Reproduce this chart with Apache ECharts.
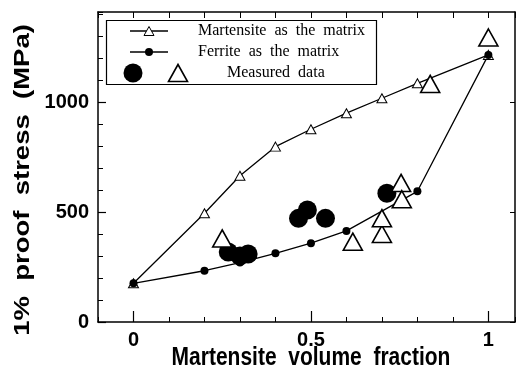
<!DOCTYPE html>
<html>
<head>
<meta charset="utf-8">
<script src="https://cdn.jsdelivr.net/npm/echarts@6/dist/echarts.min.js"></script>
<style>
html,body{margin:0;padding:0;background:#fff;}
#chart{width:516px;height:371px;}
</style>
</head>
<body>
<div id="chart"></div>
<script>
// ---- data ----
var martX = [0, 0.2, 0.3, 0.4, 0.5, 0.6, 0.7, 0.8, 1.0];
var martY = [176, 494, 665, 797, 876, 949, 1017, 1085, 1214];
var ferrX = [0, 0.2, 0.3, 0.4, 0.5, 0.6, 0.8, 1.0];
var ferrY = [176, 233, 270, 312, 358, 414, 594, 1214];
var measCircX = [0.267, 0.300, 0.323, 0.465, 0.490, 0.541, 0.714];
var measCircY = [318, 300, 309, 471, 509, 471, 585];
var measTriX = [0.250, 0.618, 0.700, 0.700, 0.754, 0.756, 0.836, 1.0];
var measTriY = [380, 365, 400, 472, 632, 558, 1082, 1293];
var xTickLabels = [0, 0.5, 1];
var yTickLabels = [0, 500, 1000];
var legendNames = ['Martensite  as  the  matrix', 'Ferrite  as  the  matrix', 'Measured  data'];
var xTitle = 'Martensite  volume  fraction';
var yTitle = '1%  proof  stress  (MPa)';

function zip(a, b) { return a.map(function (v, i) { return [v, b[i]]; }); }

var chart = echarts.init(document.getElementById('chart'), null, {renderer: 'canvas'});

var X_MIN = -0.1, X_MAX = 1.075, Y_MIN = 0, Y_MAX = 1409;
var FONT_SANS = '"Liberation Sans", Arial, sans-serif';
var lineClr = '#000';

function tri(cx, cy, w, h) {
  return [[cx, cy - h / 2], [cx + w / 2, cy + h / 2], [cx - w / 2, cy + h / 2]];
}
function plain(v) { return String(Math.round(v * 10) / 10); }

var option = {
  animation: false,
  backgroundColor: '#fff',
  grid: {left: 98, right: 1, top: 12, bottom: 49, containLabel: false},
  xAxis: [
    {
      type: 'value', min: X_MIN, max: X_MAX, interval: 0.1, position: 'bottom',
      axisLine: {show: true, onZero: false, lineStyle: {color: lineClr, width: 1.5}},
      axisTick: {show: true, inside: true, length: 5, lineStyle: {color: lineClr, width: 1}},
      axisLabel: {show: true, customValues: xTickLabels, margin: 8, formatter: plain, fontFamily: FONT_SANS, fontWeight: 'bold', fontSize: 20, color: '#000'},
      splitLine: {show: false}
    },
    {
      type: 'value', min: X_MIN, max: X_MAX, position: 'bottom',
      axisLine: {show: false, onZero: false},
      axisTick: {show: true, inside: true, length: 11, customValues: xTickLabels, lineStyle: {color: lineClr, width: 1.2}},
      axisLabel: {show: false}, splitLine: {show: false}
    },
    {
      type: 'value', min: X_MIN, max: X_MAX, interval: 0.1, position: 'top',
      axisLine: {show: true, onZero: false, lineStyle: {color: lineClr, width: 1.5}},
      axisTick: {show: true, inside: true, length: 6, lineStyle: {color: lineClr, width: 1}},
      axisLabel: {show: false}, splitLine: {show: false}
    }
  ],
  yAxis: [
    {
      type: 'value', min: Y_MIN, max: Y_MAX, interval: 100, position: 'left',
      axisLine: {show: true, onZero: false, lineStyle: {color: lineClr, width: 1.5}},
      axisTick: {show: true, inside: true, length: 5, lineStyle: {color: lineClr, width: 1}},
      axisLabel: {show: true, customValues: yTickLabels, margin: 9, formatter: plain, fontFamily: FONT_SANS, fontWeight: 'bold', fontSize: 20, color: '#000'},
      splitLine: {show: false}
    },
    {
      type: 'value', min: Y_MIN, max: Y_MAX, position: 'left',
      axisLine: {show: false, onZero: false},
      axisTick: {show: true, inside: true, length: 8, customValues: yTickLabels, lineStyle: {color: lineClr, width: 1.2}},
      axisLabel: {show: false}, splitLine: {show: false}
    },
    {
      type: 'value', min: Y_MIN, max: Y_MAX, position: 'right',
      axisLine: {show: true, onZero: false, lineStyle: {color: lineClr, width: 1.5}},
      axisTick: {show: true, inside: true, length: 5, customValues: yTickLabels, lineStyle: {color: lineClr, width: 1}},
      axisLabel: {show: false}, splitLine: {show: false}
    }
  ],
  series: [
    {
      name: legendNames[0], type: 'line', data: zip(martX, martY),
      symbol: 'triangle', symbolSize: [10, 9],
      itemStyle: {color: '#fff', borderColor: '#000', borderWidth: 1},
      lineStyle: {color: '#000', width: 1.3}, z: 3
    },
    {
      name: legendNames[1], type: 'line', data: zip(ferrX, ferrY),
      symbol: 'circle', symbolSize: 8,
      itemStyle: {color: '#000'},
      lineStyle: {color: '#000', width: 1.3}, z: 3
    },
    {
      name: 'Measured (ferrite)', type: 'scatter', data: zip(measCircX, measCircY),
      symbol: 'circle', symbolSize: 19,
      itemStyle: {color: '#000', opacity: 1}, z: 4
    },
    {
      name: 'Measured (martensite)', type: 'scatter', data: zip(measTriX, measTriY),
      symbol: 'triangle', symbolSize: [19, 17],
      itemStyle: {color: '#fff', borderColor: '#000', borderWidth: 1.6, opacity: 1}, z: 5
    }
  ],
  graphic: [
    {type: 'rect', shape: {x: 106.5, y: 20.5, width: 270, height: 64}, style: {fill: '#fff', stroke: '#000', lineWidth: 1.2}, z: 10},
    {type: 'line', shape: {x1: 130, y1: 31, x2: 168, y2: 31}, style: {stroke: '#000', lineWidth: 1.3}, z: 11},
    {type: 'polygon', shape: {points: tri(149, 31, 10, 9)}, style: {fill: '#fff', stroke: '#000', lineWidth: 1}, z: 12},
    {type: 'line', shape: {x1: 130, y1: 52, x2: 168, y2: 52}, style: {stroke: '#000', lineWidth: 1.3}, z: 11},
    {type: 'circle', shape: {cx: 149, cy: 52, r: 4}, style: {fill: '#000'}, z: 12},
    {type: 'circle', shape: {cx: 133, cy: 73, r: 9.5}, style: {fill: '#000'}, z: 12},
    {type: 'polygon', shape: {points: tri(178, 73, 19, 17)}, style: {fill: '#fff', stroke: '#000', lineWidth: 1.6}, z: 12},
    {type: 'text', x: 198, y: 31, style: {text: legendNames[0], font: '16px "Liberation Serif", "Times New Roman", serif', fill: '#000', textAlign: 'left', textVerticalAlign: 'middle'}, z: 12},
    {type: 'text', x: 198, y: 52, style: {text: legendNames[1], font: '16px "Liberation Serif", "Times New Roman", serif', fill: '#000', textAlign: 'left', textVerticalAlign: 'middle'}, z: 12},
    {type: 'text', x: 227, y: 73, style: {text: legendNames[2], font: '16px "Liberation Serif", "Times New Roman", serif', fill: '#000', textAlign: 'left', textVerticalAlign: 'middle'}, z: 12},
    {type: 'text', x: 311, y: 358, scaleY: 1.27, style: {text: xTitle, font: 'bold 21px "Liberation Sans", Arial, sans-serif', fill: '#000', textAlign: 'center', textVerticalAlign: 'middle'}, z: 12},
    {type: 'text', x: 23, y: 180, rotation: Math.PI / 2, scaleX: 1.25, style: {text: yTitle, font: 'bold 22px "Liberation Sans", Arial, sans-serif', fill: '#000', textAlign: 'center', textVerticalAlign: 'middle'}, z: 12}
  ]
};
chart.setOption(option);
</script>
</body>
</html>
